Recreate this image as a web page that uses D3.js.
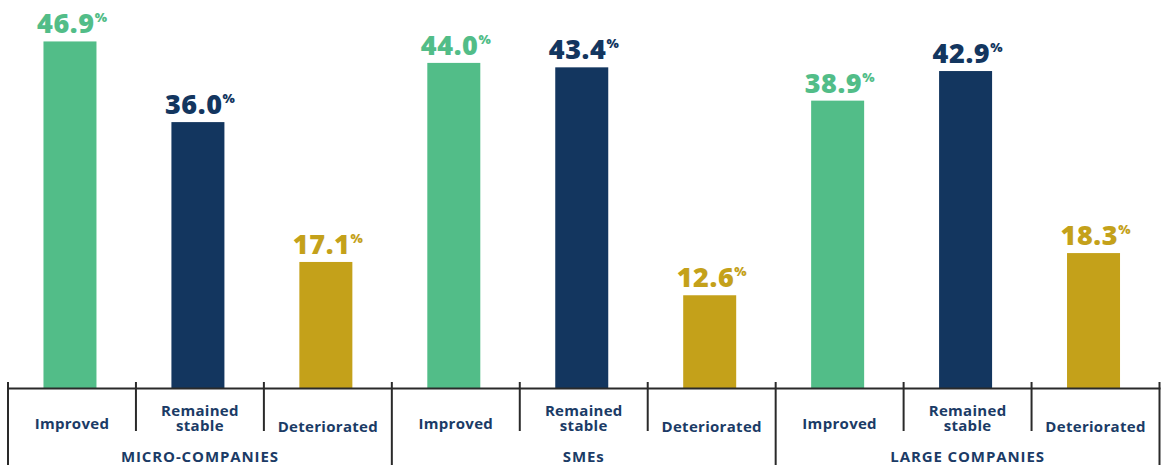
<!DOCTYPE html>
<html>
<head>
<meta charset="utf-8">
<script src="https://cdn.jsdelivr.net/npm/d3@7/dist/d3.min.js"></script>
<style>
  html, body { margin: 0; padding: 0; background: #fff; }
  svg { display: block; font-family: "Open Sans", "DejaVu Sans", sans-serif; }
</style>
</head>
<body>
<svg id="chart" width="1164" height="465"></svg>
<script>
// Share of companies by how their situation changed, per company size
const groups = ["MICRO-COMPANIES", "SMEs", "LARGE COMPANIES"];
const categories = ["Improved", "Remained stable", "Deteriorated"];
const microValues = [46.9, 36.0, 17.1];
const smeValues = [44.0, 43.4, 12.6];
const largeValues = [38.9, 42.9, 18.3];
const categoryColors = ["#52bd88", "#13365f", "#c4a11a"];

const seriesByGroup = [microValues, smeValues, largeValues];
const rows = [];
groups.forEach((g, gi) => {
  categories.forEach((c, ci) => {
    rows.push({ group: g, category: c, value: seriesByGroup[gi][ci], ci, key: g + "|" + c });
  });
});

const svg = d3.select("#chart");
const left = 8, right = 1159.5;
const baseY = 388.5;
const navy = "#1b3b66";

const x = d3.scaleBand().domain(rows.map(d => d.key)).range([left, right]).paddingInner(0).paddingOuter(0);
const xGroup = d3.scaleBand().domain(groups).range([left, right]);
const y = d3.scaleLinear().domain([0, 50]).range([baseY, baseY - 370]);

const barW = 53;
const barOffset = -2;

// bars
svg.append("g").selectAll("rect").data(rows).join("rect")
  .attr("x", d => x(d.key) + x.bandwidth() / 2 - barW / 2 + barOffset)
  .attr("y", d => y(d.value))
  .attr("width", barW)
  .attr("height", d => y(0) - y(d.value))
  .attr("fill", d => categoryColors[d.ci]);

// value labels with a small superscript percent sign
const labels = svg.append("g").selectAll("text").data(rows).join("text")
  .attr("x", d => x(d.key) + x.bandwidth() / 2 + barOffset + 2)
  .attr("y", d => y(d.value) - 8)
  .attr("text-anchor", "middle")
  .attr("fill", d => categoryColors[d.ci])
  .attr("font-weight", 800);
labels.append("tspan").attr("font-size", 27).attr("letter-spacing", 0.6).text(d => d.value.toFixed(1));
labels.append("tspan").attr("font-size", 13).attr("dy", -11).text("%");

// baseline
svg.append("line")
  .attr("x1", left).attr("x2", right + 1)
  .attr("y1", baseY).attr("y2", baseY)
  .attr("stroke", "#2a2a2a").attr("stroke-width", 2);

// category dividers (short) and group dividers (tall)
const ax = svg.append("g").attr("stroke", "#2a2a2a").attr("stroke-width", 2);
const edges = x.domain().map(k => x(k)).concat([right]);
edges.forEach((ex, i) => {
  const isGroupEdge = i % 3 === 0;
  ax.append("line")
    .attr("x1", ex).attr("x2", ex)
    .attr("y1", 382)
    .attr("y2", isGroupEdge ? 465 : 431);
});

// category labels
const catText = svg.append("g").selectAll("text").data(rows).join("text")
  .attr("x", d => x(d.key) + x.bandwidth() / 2)
  .attr("text-anchor", "middle")
  .attr("fill", navy)
  .attr("font-size", 15)
  .attr("letter-spacing", 0.3)
  .attr("font-weight", 700);
catText.each(function(d) {
  const t = d3.select(this);
  const cx = x(d.key) + x.bandwidth() / 2;
  if (d.category === "Remained stable") {
    t.append("tspan").attr("x", cx).attr("y", 416).text("Remained");
    t.append("tspan").attr("x", cx).attr("y", 431).text("stable");
  } else if (d.category === "Improved") {
    t.attr("y", 429).text(d.category);
  } else {
    t.attr("y", 432).text(d.category);
  }
});

// group labels
svg.append("g").selectAll("text").data(groups).join("text")
  .attr("x", g => xGroup(g) + xGroup.bandwidth() / 2)
  .attr("y", 462)
  .attr("text-anchor", "middle")
  .attr("fill", navy)
  .attr("font-size", 15)
  .attr("letter-spacing", 0.9)
  .attr("font-weight", 700)
  .text(g => g);
</script>
</body>
</html>
